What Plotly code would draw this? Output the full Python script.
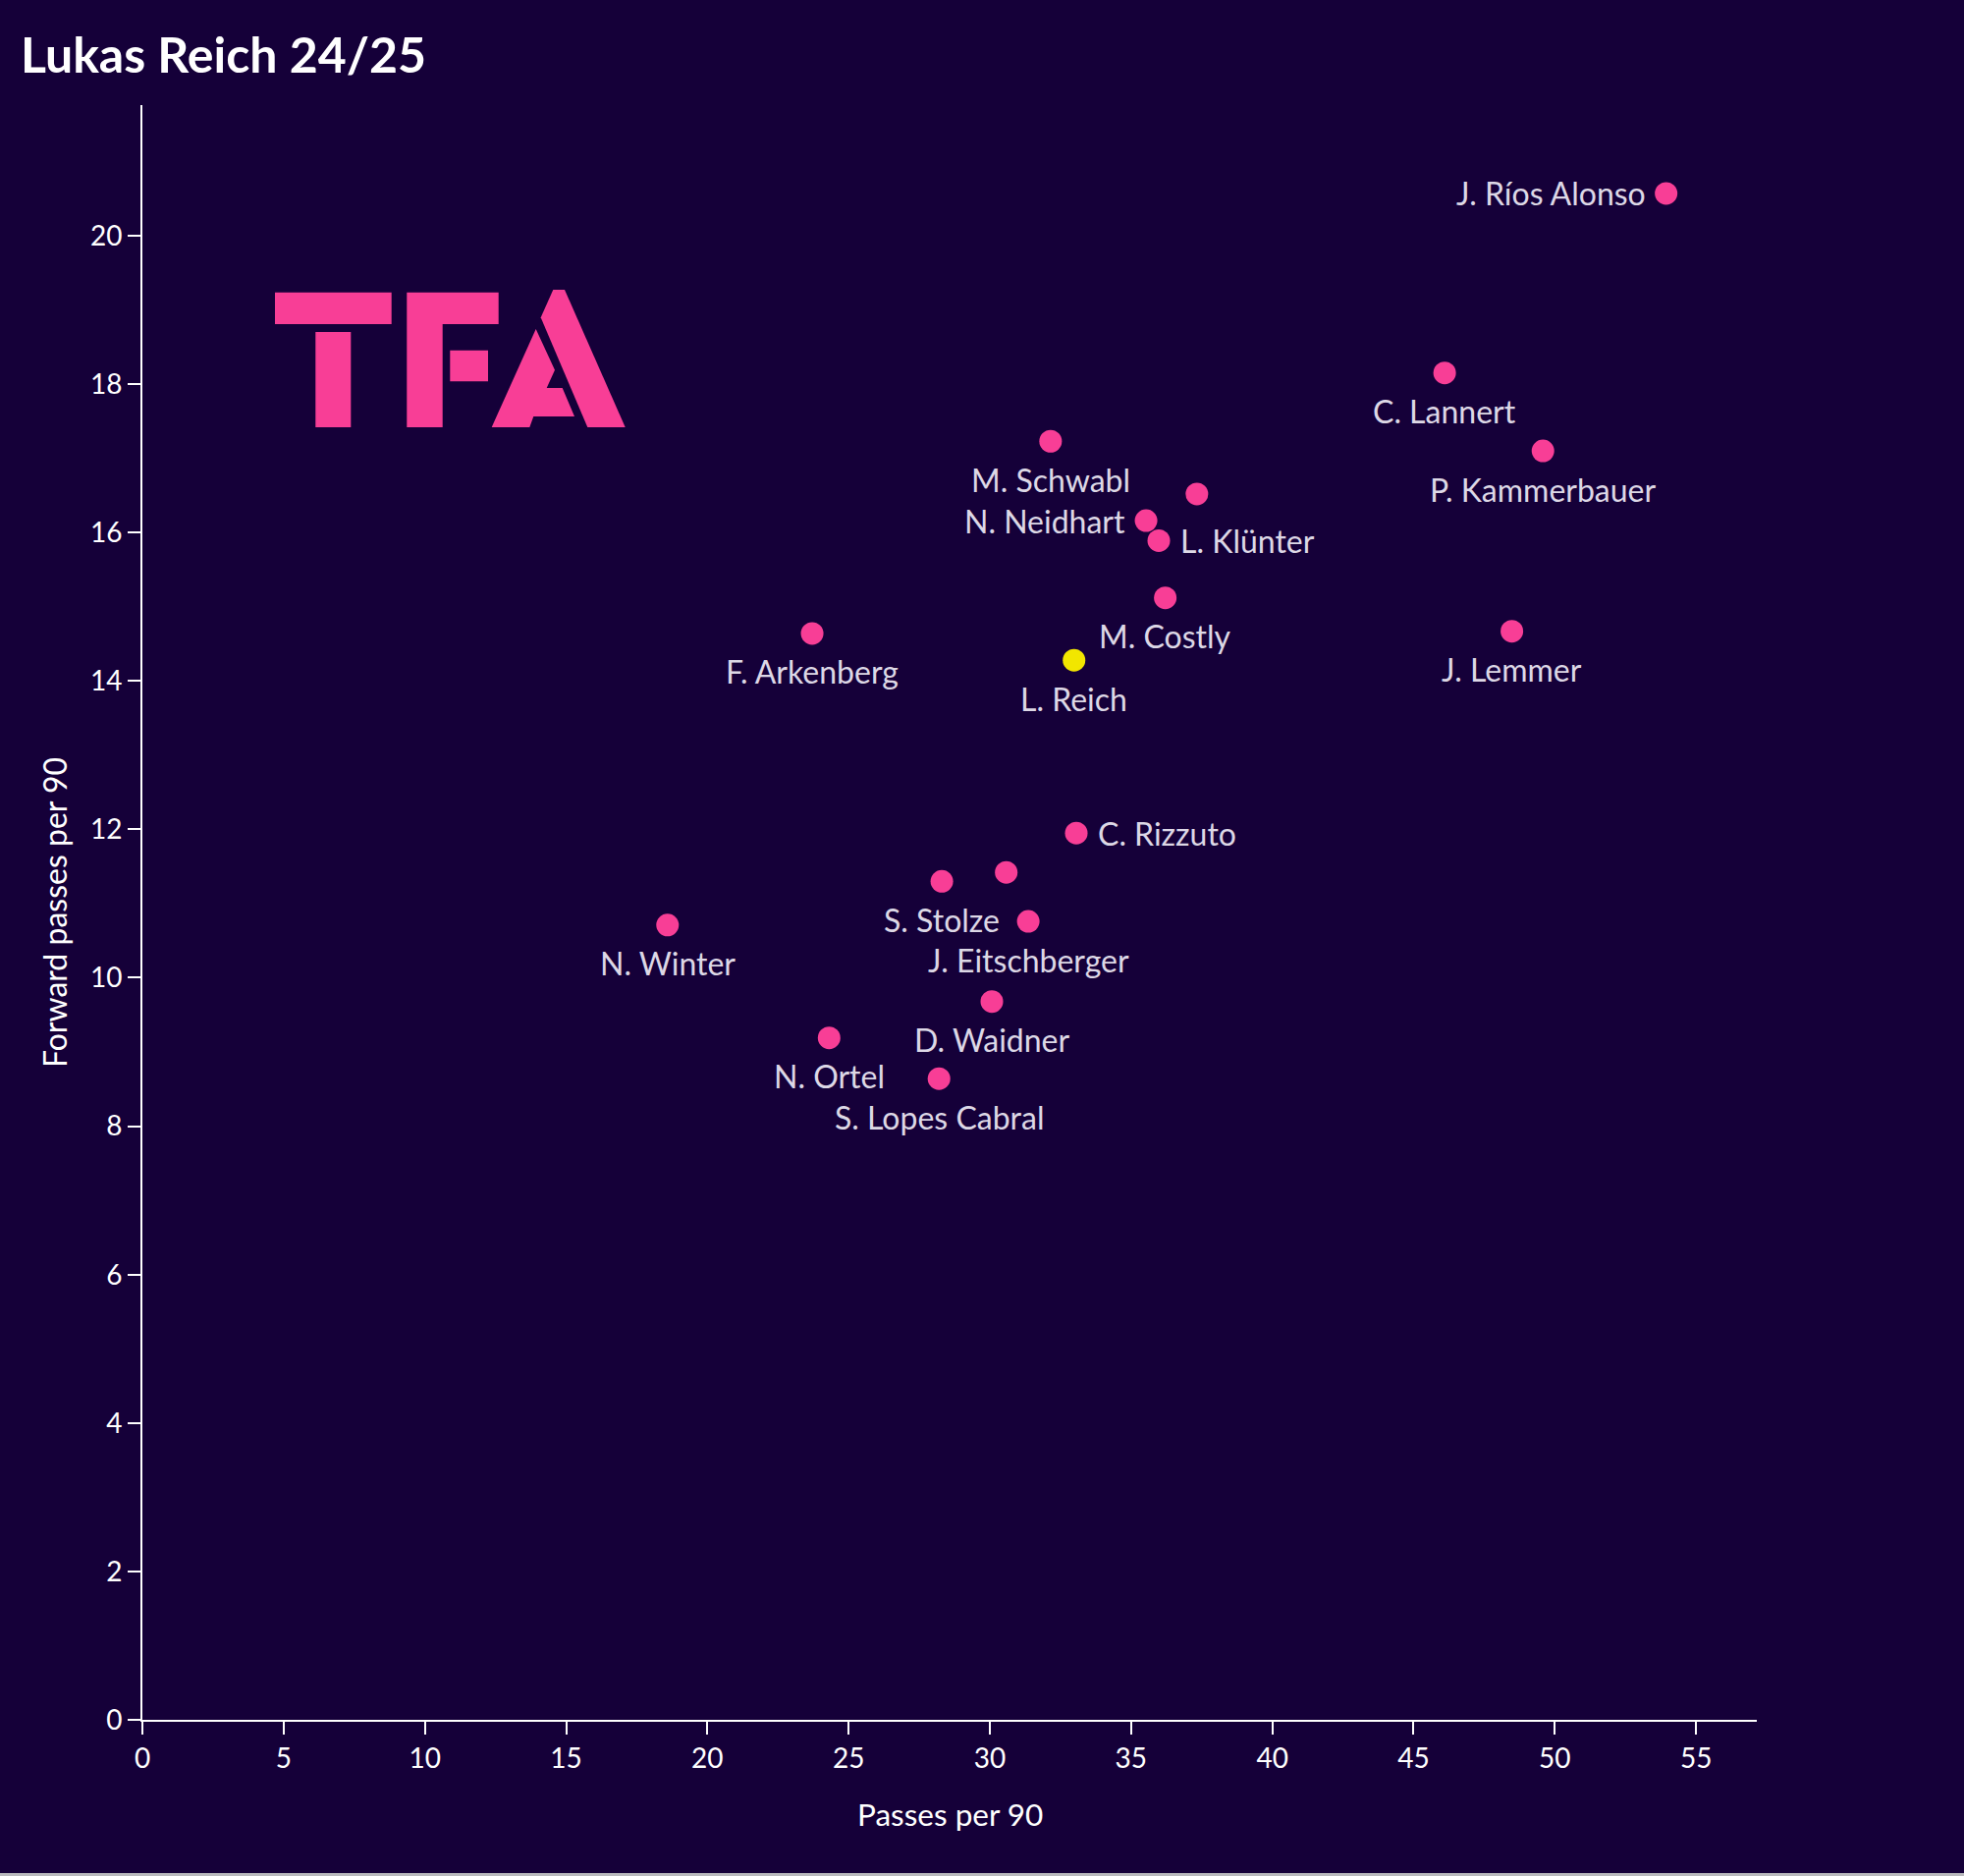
import plotly.graph_objects as go

# ---------------- data ----------------
players = [
    "J. Ríos Alonso", "C. Lannert", "P. Kammerbauer", "J. Lemmer",
    "M. Schwabl", "", "N. Neidhart", "L. Klünter", "M. Costly", "L. Reich",
    "F. Arkenberg", "C. Rizzuto", "", "S. Stolze", "J. Eitschberger",
    "N. Winter", "D. Waidner", "N. Ortel", "S. Lopes Cabral",
]
passes_p90 = [
    53.94, 46.10, 49.58, 48.48,
    32.15, 37.33, 35.53, 35.98, 36.21, 32.98,
    23.71, 33.06, 30.58, 28.30, 31.36,
    18.59, 30.07, 24.31, 28.20,
]
fwd_passes_p90 = [
    20.57, 18.15, 17.10, 14.67,
    17.23, 16.52, 16.16, 15.89, 15.12, 14.28,
    14.64, 11.95, 11.42, 11.30, 10.76,
    10.71, 9.68, 9.19, 8.64,
]
highlight = "L. Reich"
x_ticks = [0, 5, 10, 15, 20, 25, 30, 35, 40, 45, 50, 55]
y_ticks = [0, 2, 4, 6, 8, 10, 12, 14, 16, 18, 20]

# label placement (style only)
label_pos = [
    "left", "below", "below", "below",
    "below", "none", "left", "right", "below", "below",
    "below", "right", "none", "below", "below",
    "below", "below", "below", "below",
]

# ---------------- style ----------------
BG = "#150039"
PINK = "#F83E96"
YELLOW = "#F2E600"
LABEL_COL = "#DDD8E6"
FONT = "Lato"

W, H = 2000, 1910
ML, MR, MT, MB = 145, 211, 107, 159
PW = W - ML - MR
PH = H - MT - MB

colors = [YELLOW if p == highlight else PINK for p in players]

fig = go.Figure()
fig.add_trace(go.Scatter(
    x=passes_p90, y=fwd_passes_p90, mode="markers",
    marker=dict(size=23, color=colors, line=dict(width=0)),
    hovertext=players, hoverinfo="text", showlegend=False,
))

annotations = []
for name, xv, yv, pos in zip(players, passes_p90, fwd_passes_p90, label_pos):
    if not name or pos == "none":
        continue
    a = dict(x=xv, y=yv, xref="x", yref="y", text=name, showarrow=False,
             font=dict(family=FONT, size=32, color=LABEL_COL))
    if pos == "below":
        a.update(xanchor="center", yanchor="middle", yshift=-39)
    elif pos == "left":
        a.update(xanchor="right", yanchor="middle", xshift=-19)
    else:
        a.update(xanchor="left", yanchor="middle", xshift=20)
    annotations.append(a)

# axis titles
annotations.append(dict(x=0.5, y=0, xref="paper", yref="paper", yshift=-96,
                        text="Passes per 90", showarrow=False,
                        xanchor="center", yanchor="middle",
                        font=dict(family=FONT, size=31.5, color="white")))
annotations.append(dict(x=0, y=0.5, xref="paper", yref="paper", xshift=-90,
                        text="Forward passes per 90", showarrow=False, textangle=-90,
                        xanchor="center", yanchor="middle",
                        font=dict(family=FONT, size=32, color="white")))


# ---------------- TFA logo (decoration) ----------------
def P(px, py):
    return ((px - ML) / PW, (H - MB - py) / PH)


def path(points):
    pts = [P(*p) for p in points]
    s = "M %f,%f " % pts[0]
    for p in pts[1:]:
        s += "L %f,%f " % p
    return s + "Z"


logo_polys = [
    [(280, 297.7), (398.7, 297.7), (398.7, 330), (280, 330)],            # T bar
    [(321.3, 338), (357.3, 338), (357.3, 435), (321.3, 435)],            # T stem
    [(414.3, 297.7), (507.7, 297.7), (507.7, 330), (450.7, 330),
     (450.7, 435), (414.3, 435)],                                         # F
    [(458.3, 356.7), (497, 356.7), (497, 388.3), (458.3, 388.3)],        # F middle
    [(550.7, 323.3), (563.3, 295), (575, 295), (636.7, 435), (598.3, 435)],  # A right
    [(545.7, 335), (565, 376.7), (556.7, 395), (572.7, 395), (585, 424),
     (543.3, 424), (539.3, 435), (500.7, 435)],                           # A left
]
shapes = [dict(type="path", xref="paper", yref="paper", path=path(pl),
               fillcolor=PINK, line=dict(width=0), layer="below")
          for pl in logo_polys]

# thin grey strip along the bottom edge of the image
x0p, y0p = P(0, 1910)
x1p, y1p = P(2000, 1907)
shapes.append(dict(type="rect", xref="paper", yref="paper",
                   x0=x0p, x1=x1p, y0=y0p, y1=y1p,
                   fillcolor="#B9B9BD", line=dict(width=0), layer="above"))

axis_common = dict(
    showline=True, linecolor="white", linewidth=2,
    ticks="outside", ticklen=13, tickwidth=2, tickcolor="white",
    showgrid=False, zeroline=False,
    tickfont=dict(family=FONT, size=28, color="white"),
)

fig.update_layout(
    width=W, height=H,
    paper_bgcolor=BG, plot_bgcolor=BG,
    margin=dict(l=ML, r=MR, t=MT, b=MB, pad=0),
    title=dict(text="Lukas Reich 24/25", x=21 / W, xanchor="left", xref="container",
               y=1 - 56 / H, yanchor="middle", yref="container",
               font=dict(family=FONT, size=50, color="white", weight=700)),
    xaxis=dict(range=[0, 57.15], tickvals=x_ticks, **axis_common),
    yaxis=dict(range=[0, 21.76], tickvals=y_ticks, **axis_common),
    annotations=annotations,
    shapes=shapes,
    font=dict(family=FONT, color="white"),
)

fig.write_html("out.html", config={"displayModeBar": False},
               post_script="document.body.style.margin='0';document.body.style.background='%s';" % BG)
